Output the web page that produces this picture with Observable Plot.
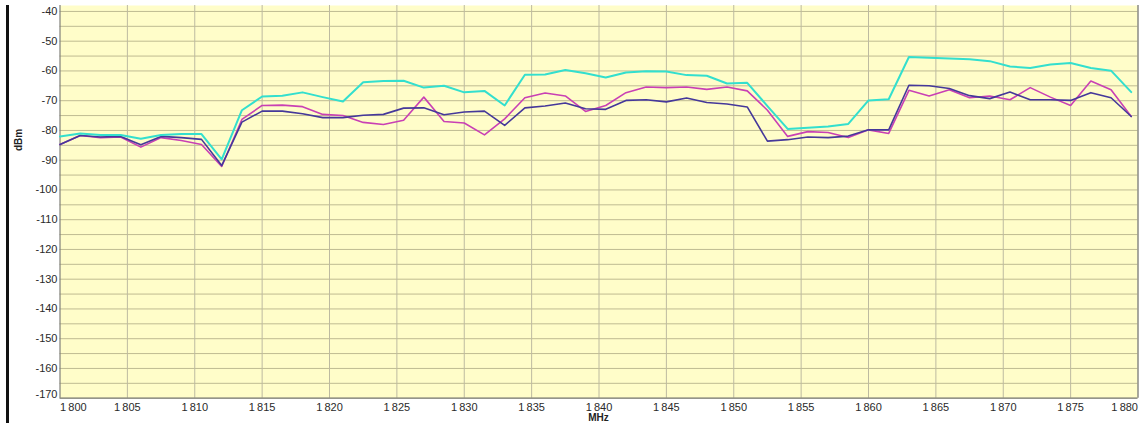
<!DOCTYPE html>
<html>
<head>
<meta charset="utf-8">
<script src="https://cdn.jsdelivr.net/npm/d3@7"></script>
<script src="https://cdn.jsdelivr.net/npm/@observablehq/plot@0.6"></script>
<style>
  html, body { margin: 0; padding: 0; background: #fff; }
  #wrap { position: relative; width: 1141px; height: 423px; overflow: hidden; }
  #edge { position: absolute; left: 6px; top: 5px; width: 2.5px; height: 418px; background: #111; }
</style>
</head>
<body>
<div id="wrap"><div id="edge"></div></div>
<script>
// Frequencies (MHz)
const freq = [1800, 1801.5, 1803, 1804.5, 1806, 1807.5, 1809, 1810.5, 1812, 1813.5,
  1815, 1816.5, 1818, 1819.5, 1821, 1822.5, 1824, 1825.5, 1827, 1828.5,
  1830, 1831.5, 1833, 1834.5, 1836, 1837.5, 1839, 1840.5, 1842, 1843.5,
  1845, 1846.5, 1848, 1849.5, 1851, 1852.5, 1854, 1855.5, 1857, 1858.5,
  1860, 1861.5, 1863, 1864.5, 1866, 1867.5, 1869, 1870.5, 1872, 1873.5,
  1875, 1876.5, 1878, 1879.5];

// Series (dBm)
const cyanSeries = [-82.0, -81.0, -81.5, -81.5, -82.8, -81.5, -81.2, -81.2, -89.7, -73.2,
  -68.6, -68.3, -67.2, -68.8, -70.3, -63.8, -63.4, -63.3, -65.6, -65.0,
  -67.2, -66.7, -71.6, -61.3, -61.2, -59.7, -60.8, -62.2, -60.5, -60.1,
  -60.2, -61.4, -61.6, -64.2, -64.0, -71.8, -79.5, -79.1, -78.7, -77.8,
  -69.9, -69.5, -55.3, -55.6, -55.8, -56.1, -56.7, -58.5, -59.0, -57.8,
  -57.3, -59.0, -59.9, -67.1];

const magentaSeries = [-84.7, -81.7, -82.4, -82.2, -85.6, -82.4, -83.4, -84.7, -92.1, -76.3,
  -71.6, -71.5, -72.0, -74.6, -75.0, -77.3, -78.0, -76.6, -68.8, -77.0,
  -77.5, -81.5, -76.1, -69.0, -67.4, -68.4, -73.6, -71.6, -67.3, -65.4,
  -65.6, -65.4, -66.2, -65.4, -66.7, -73.2, -82.0, -80.4, -80.7, -82.4,
  -79.8, -81.0, -66.5, -68.4, -66.3, -69.0, -68.4, -69.7, -65.6, -68.8,
  -71.6, -63.4, -66.3, -75.3];

const purpleSeries = [-84.7, -81.7, -82.2, -82.0, -84.8, -82.0, -82.4, -83.0, -91.8, -77.2,
  -73.5, -73.5, -74.4, -75.7, -75.7, -74.9, -74.6, -72.5, -72.4, -74.7,
  -73.8, -73.5, -78.3, -72.4, -71.8, -70.8, -72.7, -72.9, -69.9, -69.7,
  -70.4, -69.1, -70.6, -71.1, -72.1, -83.6, -83.1, -82.2, -82.4, -81.9,
  -79.8, -79.8, -64.8, -65.0, -65.9, -68.3, -69.3, -67.1, -69.7, -69.7,
  -69.9, -67.3, -69.0, -75.3];

// Axis ticks and labels
const xDomain = [1800, 1880];
const yDomain = [-170, -38];
const xTicks = [1800, 1805, 1810, 1815, 1820, 1825, 1830, 1835, 1840, 1845, 1850, 1855, 1860, 1865, 1870, 1875, 1880];
const yLabelTicks = [-160, -150, -140, -130, -120, -110, -100, -90, -80, -70, -60, -50, -40];
const yBottomTick = [-170];
const yGridTicks = [-165, -160, -155, -150, -145, -140, -135, -130, -125, -120, -115, -110, -105, -100,
  -95, -90, -85, -80, -75, -70, -65, -60, -55, -50, -45, -40];
const xLabel = "MHz";
const yLabel = "dBm";

const fmtX = d => { const s = String(d); return s[0] + "\u2009" + s.slice(1); };
const toRows = arr => freq.map((f, i) => ({f, v: arr[i]}));

const fontFam = "'Liberation Sans', Arial, sans-serif";
const H = 423, MT = 5, MB = 25.3;

const chart = Plot.plot({
  width: 1141,
  height: H,
  marginLeft: 59.5,
  marginRight: 3.5,
  marginTop: MT,
  marginBottom: MB,
  x: {domain: xDomain},
  y: {domain: yDomain},
  style: {background: "transparent", fontFamily: fontFam, fontSize: "11px", color: "#2a2a2a"},
  marks: [
    Plot.frame({fill: "#fffdc9", stroke: "none"}),
    Plot.gridY(yGridTicks, {stroke: "#bfbb92", strokeOpacity: 1, strokeWidth: 1}),
    Plot.gridX(xTicks.slice(1, -1), {stroke: "#bdbaa0", strokeOpacity: 1, strokeWidth: 1}),
    Plot.ruleX([xDomain[0]], {stroke: "#80807a", strokeWidth: 1.2}),
    Plot.ruleX([xDomain[1]], {stroke: "#8a8a84", strokeWidth: 1.5}),
    Plot.ruleY([yDomain[0]], {stroke: "#70706a", strokeWidth: 1.3}),
    Plot.axisY(yLabelTicks, {tickSize: 0, tickPadding: 2.5, tickFormat: d => String(d), label: null, fontSize: 11}),
    Plot.axisY(yBottomTick, {tickSize: 0, tickPadding: 2.5, tickFormat: d => String(d), label: null, fontSize: 11, dy: -4}),
    Plot.axisX(xTicks.slice(1, -1), {tickSize: 0, tickPadding: 5, tickFormat: fmtX, label: null, fontSize: 11}),
    Plot.axisX([xTicks[0]], {tickSize: 0, tickPadding: 5, tickFormat: fmtX, label: null, fontSize: 11, textAnchor: "start"}),
    Plot.axisX([xTicks[xTicks.length - 1]], {tickSize: 0, tickPadding: 5, tickFormat: fmtX, label: null, fontSize: 11, textAnchor: "end"}),
    Plot.line(toRows(magentaSeries), {x: "f", y: "v", stroke: "#c940b4", strokeWidth: 1.6}),
    Plot.line(toRows(purpleSeries), {x: "f", y: "v", stroke: "#45389a", strokeWidth: 1.6}),
    Plot.line(toRows(cyanSeries), {x: "f", y: "v", stroke: "#33dfce", strokeWidth: 2})
  ]
});

const svg = d3.select(chart);
svg.append("text")
  .attr("x", (59.5 + 1137.5) / 2)
  .attr("y", 421)
  .attr("text-anchor", "middle")
  .attr("font-family", fontFam)
  .attr("font-size", 10)
  .attr("font-weight", "bold")
  .attr("fill", "#222")
  .text(xLabel);
svg.append("text")
  .attr("transform", "translate(22,140) rotate(-90)")
  .attr("text-anchor", "middle")
  .attr("font-family", fontFam)
  .attr("font-size", 10)
  .attr("font-weight", "bold")
  .attr("fill", "#222")
  .text(yLabel);

document.getElementById("wrap").appendChild(chart);
</script>
</body>
</html>
